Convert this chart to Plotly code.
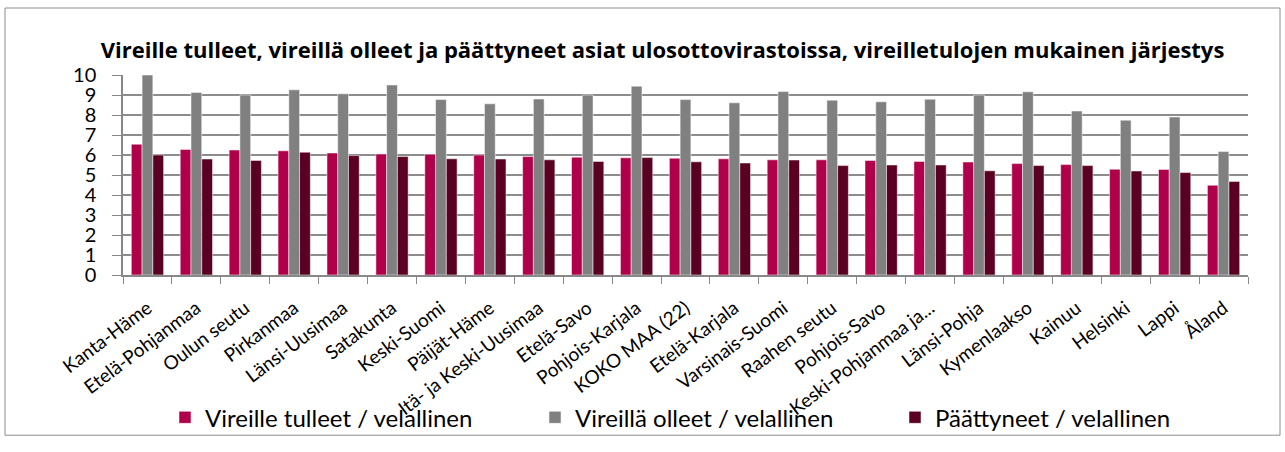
import plotly.graph_objects as go

# Ulosottovirastot, järjestetty vireilletulojen mukaan
virastot = [
    "Kanta-Häme", "Etelä-Pohjanmaa", "Oulun seutu", "Pirkanmaa", "Länsi-Uusimaa",
    "Satakunta", "Keski-Suomi", "Päijät-Häme", "Itä- ja Keski-Uusimaa", "Etelä-Savo",
    "Pohjois-Karjala", "KOKO MAA (22)", "Etelä-Karjala", "Varsinais-Suomi", "Raahen seutu",
    "Pohjois-Savo", "Keski-Pohjanmaa ja...", "Länsi-Pohja", "Kymenlaakso", "Kainuu",
    "Helsinki", "Lappi", "Åland",
]

vireille_tulleet = [6.54, 6.28, 6.25, 6.21, 6.10, 6.05, 6.04, 6.00, 5.92, 5.89,
                    5.86, 5.84, 5.81, 5.76, 5.76, 5.73, 5.68, 5.65, 5.57, 5.52,
                    5.29, 5.28, 4.49]
vireilla_olleet = [10.0, 9.13, 9.00, 9.26, 9.06, 9.50, 8.77, 8.56, 8.80, 9.00,
                   9.44, 8.77, 8.61, 9.17, 8.74, 8.66, 8.79, 9.00, 9.16, 8.20,
                   7.74, 7.90, 6.17]
paattyneet = [6.00, 5.80, 5.73, 6.14, 5.97, 5.92, 5.81, 5.80, 5.76, 5.68,
              5.87, 5.66, 5.60, 5.75, 5.47, 5.50, 5.50, 5.21, 5.47, 5.47,
              5.20, 5.12, 4.68]

sarjat = [
    ("Vireille tulleet / velallinen", vireille_tulleet, "#B0004A", "legend"),
    ("Vireillä olleet / velallinen", vireilla_olleet, "#808080", "legend2"),
    ("Päättyneet / velallinen", paattyneet, "#5A0022", "legend3"),
]

FONT = "Lato, 'Liberation Sans', sans-serif"
TITLE_FONT = "'Open Sans', 'Liberation Sans', sans-serif"
W, H = 1285, 452
ML, MR, MT, MB = 123, 37, 75, 171
PW, PH = W - ML - MR, H - MT - MB


def px_x(p):
    return (p - ML) / PW


def px_y(p):
    return (H - MB - p) / PH


fig = go.Figure()
for nimi, arvot, vari, leg in sarjat:
    fig.add_trace(go.Bar(
        x=virastot, y=arvot, name=nimi, legend=leg, showlegend=True,
        marker=dict(color=vari, line=dict(color="white", width=0.5)),
    ))

legend_common = dict(
    orientation="h", xanchor="left", yanchor="middle", y=px_y(428),
    font=dict(family=FONT, size=24, color="#000000"),
    bgcolor="rgba(0,0,0,0)", itemwidth=30,
)

fig.update_layout(
    width=W, height=H,
    showlegend=True,
    margin=dict(l=ML, r=MR, t=MT, b=MB),
    paper_bgcolor="white", plot_bgcolor="white",
    barmode="group", bargap=0.34, bargroupgap=0.0,
    title=dict(
        text="<b>Vireille tulleet, vireillä olleet ja päättyneet asiat ulosottovirastoissa, vireilletulojen mukainen järjestys</b>",
        x=662.5 / W, xanchor="center", y=1 - 50 / H, yanchor="middle",
        font=dict(family=TITLE_FONT, size=22, color="#000000"),
    ),
    legend=dict(x=px_x(165), **legend_common),
    legend2=dict(x=px_x(535), **legend_common),
    legend3=dict(x=px_x(895), **legend_common),
    xaxis=dict(
        tickangle=-37, ticks="outside", tickson="boundaries", ticklen=7,
        tickcolor="#888888", showline=True, linecolor="#888888", linewidth=1.5,
        tickfont=dict(family=FONT, size=19, color="#000000"),
        ticklabelstandoff=13, showgrid=False,
    ),
    yaxis=dict(
        range=[0, 10], dtick=1, ticks="outside", ticklen=9, tickcolor="#888888",
        showline=True, linecolor="#888888", linewidth=1.5,
        gridcolor="#8c8c8c", gridwidth=1.5,
        tickfont=dict(family=FONT, size=20, color="#000000"),
        ticklabelstandoff=12, zeroline=False,
    ),
    shapes=[dict(
        type="rect", xref="paper", yref="paper",
        x0=px_x(5), x1=px_x(1280), y0=px_y(446), y1=px_y(6),
        line=dict(color="#8c8c8c", width=1), layer="below",
    )],
)

fig.write_html("out.html")
